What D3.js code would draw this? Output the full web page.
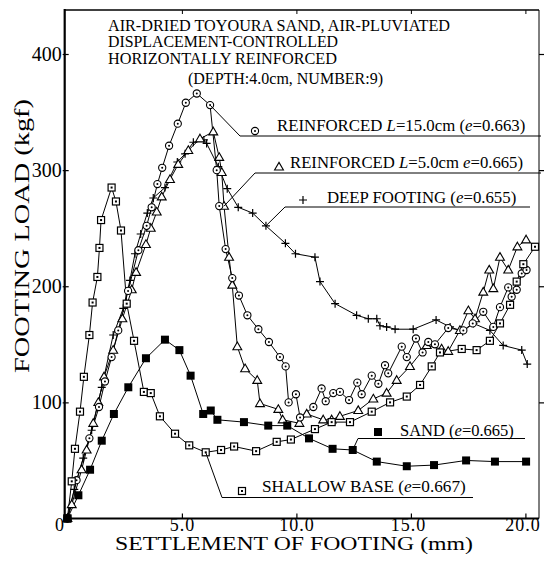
<!DOCTYPE html>
<html>
<head>
<meta charset="utf-8">
<script src="https://cdn.jsdelivr.net/npm/d3@7"></script>
<style>
html,body{margin:0;padding:0;background:#fff;}
svg{display:block;}
text{font-family:"Liberation Serif","DejaVu Serif",serif;fill:#000;}
</style>
</head>
<body>
<svg id="chart" width="545" height="564"></svg>
<script>
// ---------------- DATA ----------------
const xTicks = [0, 5, 10, 15, 20];
const yTicks = [100, 200, 300, 400];
const titleLines = [
  "AIR-DRIED TOYOURA SAND, AIR-PLUVIATED",
  "DISPLACEMENT-CONTROLLED",
  "HORIZONTALLY REINFORCED",
  "(DEPTH:4.0cm, NUMBER:9)"
];
const xLabel = "SETTLEMENT OF FOOTING (mm)";
const yLabel = "FOOTING LOAD (kgf)";

// settlement (mm), load (kgf)
const reinforced15 = [[0,0],[0.4,33],[0.96,69],[1.38,96],[1.64,118],[1.93,139],[2.22,162],[2.65,196],[3.10,231],[3.46,252],[3.68,268],[3.93,288],[4.14,302],[4.44,321],[4.82,340],[5.17,358],[5.65,366],[6.23,356],[6.52,300],[6.63,269],[6.91,232],[7.20,207],[7.49,192],[7.86,175],[8.34,163],[8.80,152],[9.28,139],[9.53,131],[9.66,100],[9.98,107],[10.16,87],[10.74,96],[11.10,112],[11.28,101],[11.61,108],[11.90,109],[12.30,102],[12.66,117],[12.85,107],[13.29,123],[13.58,116],[13.87,132],[14.01,125],[14.60,148],[14.82,139],[15.22,155],[15.51,143],[15.76,152],[16.05,150],[16.63,164],[17.29,162],[17.70,168],[18.16,178],[18.60,165],[18.89,182],[19.25,199],[19.40,191],[19.62,197],[19.84,211],[20.05,214]];
const reinforced5 = [[0,0],[0.19,12],[0.62,42],[0.84,59],[1.13,82],[1.35,100],[1.60,122],[2.00,145],[2.40,172],[2.81,197],[3.00,212],[3.43,236],[3.64,250],[3.90,264],[4.12,277],[4.48,292],[4.84,305],[5.28,317],[5.79,327],[6.37,333],[6.63,311],[6.74,298],[6.84,269],[7.06,225],[7.20,201],[7.42,148],[7.76,129],[8.29,119],[8.41,99],[9.21,94],[9.40,85],[10.13,82],[10.45,90],[11.17,85],[11.54,85],[11.90,88],[12.70,93],[13.36,103],[13.94,108],[14.38,119],[14.96,131],[15.69,149],[16.34,146],[16.63,144],[17.14,162],[17.51,179],[17.80,172],[18.16,195],[18.42,214],[18.60,198],[18.89,225],[19.25,214],[19.65,234],[20.03,240]];
const deepFooting = [[0,0],[0.30,25],[0.69,52],[1.06,76],[1.50,113],[2.00,158],[2.44,181],[2.73,205],[2.95,228],[3.20,245],[3.49,263],[3.75,276],[4.26,285],[4.80,307],[5.14,314],[5.50,324],[5.96,326],[6.08,323],[6.59,303],[6.98,284],[7.46,268],[8.09,263],[8.67,252],[9.52,237],[9.96,228],[10.81,225],[11.03,204],[11.69,185],[12.63,175],[13.14,172],[13.51,172],[13.65,166],[13.94,165],[14.31,163],[15.10,163],[16.10,171],[16.71,165],[17.26,161],[17.73,168],[18.45,162],[19.03,149],[19.84,145],[20.08,133]];
const shallowBase = [[0,0],[0.19,32],[0.33,60],[0.55,92],[0.72,122],[0.96,158],[1.10,186],[1.31,208],[1.40,233],[1.47,257],[1.93,285],[2.12,273],[2.34,248],[2.59,185],[2.91,153],[3.34,109],[3.64,108],[4.04,88],[4.70,73],[5.32,63],[6.04,57],[6.71,59],[7.28,62],[8.24,58],[9.14,66],[9.76,68],[10.81,77],[11.54,83],[12.34,83],[13.29,92],[14.09,100],[14.82,105],[15.40,115],[15.91,131],[16.27,143],[17.22,146],[17.87,145],[18.45,153],[18.89,168],[19.33,184],[19.62,204],[19.91,219],[20.42,234]];
const sand = [[0,0],[0.48,20],[0.99,42],[1.50,67],[2.03,90],[2.66,113],[3.43,138],[4.26,154],[4.89,145],[5.38,123],[5.93,90],[6.26,93],[6.55,85],[7.71,83],[8.77,80],[9.60,80],[10.55,69],[11.58,60],[12.46,59],[13.51,49],[14.82,45],[16.01,46],[17.41,50],[18.67,49],[20.03,49]];

// ---------------- LAYOUT ----------------
const svg = d3.select("#chart");
const frame = {left: 64.7, right: 539, top: 10, bottom: 518.5};
const x = d3.scaleLinear().domain([0, 20]).range([67.4, 525.4]);
const y = d3.scaleLinear().domain([0, 400]).range([518.5, 54]);

// frame
svg.append("line").attr("x1", frame.left).attr("x2", frame.right).attr("y1", frame.top).attr("y2", frame.top)
  .attr("stroke", "#000").attr("stroke-width", 1.6);
svg.append("line").attr("x1", frame.right).attr("x2", frame.right).attr("y1", frame.top).attr("y2", frame.bottom)
  .attr("stroke", "#000").attr("stroke-width", 1);

// axes
const gx = svg.append("g").attr("transform", `translate(0,${frame.bottom})`)
  .call(d3.axisBottom(x).tickValues(xTicks).tickSizeInner(-5).tickSizeOuter(0).tickPadding(0)
    .tickFormat(d => d === 0 ? "0" : d.toFixed(1)));
gx.select(".domain").remove();
gx.selectAll(".tick line").attr("stroke", "#000").attr("stroke-width", 1.2);
gx.selectAll(".tick text").attr("font-size", 18).attr("font-family", '"Liberation Serif",serif')
  .attr("letter-spacing", 1)
  .attr("dx", d => d === 0 ? -8 : (d >= 15 ? -3 : 0));
svg.append("line").attr("x1", frame.left - 1).attr("x2", frame.right).attr("y1", frame.bottom).attr("y2", frame.bottom)
  .attr("stroke", "#000").attr("stroke-width", 2.2);

// top ticks
svg.append("g").attr("transform", `translate(0,${frame.top})`)
  .call(d3.axisTop(x).tickValues(xTicks.slice(1)).tickSizeInner(-4).tickSizeOuter(0).tickFormat(""))
  .call(g => g.select(".domain").remove())
  .selectAll(".tick line").attr("stroke", "#000");

const gy = svg.append("g").attr("transform", `translate(${frame.left},0)`)
  .call(d3.axisLeft(y).tickValues(yTicks).tickSizeInner(4).tickSizeOuter(0).tickPadding(-1));
gy.select(".domain").remove();
gy.selectAll(".tick line").attr("stroke", "#000").attr("stroke-width", 1.2).attr("x2", 4).attr("x1", -2);
gy.selectAll(".tick text").attr("font-size", 20).attr("font-family", '"Liberation Serif",serif').attr("x", -3);
svg.append("line").attr("x1", frame.left).attr("x2", frame.left).attr("y1", frame.top - 1).attr("y2", frame.bottom + 1)
  .attr("stroke", "#000").attr("stroke-width", 2.2);

// right ticks
svg.append("g").attr("transform", `translate(${frame.right},0)`)
  .call(d3.axisRight(y).tickValues(yTicks).tickSizeInner(5).tickSizeOuter(0).tickFormat(""))
  .call(g => g.select(".domain").remove())
  .selectAll(".tick line").attr("stroke", "#000").attr("stroke-width", 1.2);

// axis titles
svg.append("text").attr("x", 115).attr("y", 550).attr("font-size", 18.5)
  .attr("textLength", 358).attr("lengthAdjust", "spacingAndGlyphs").text(xLabel);
svg.append("text").attr("transform", "translate(29,373) rotate(-90)").attr("font-size", 21)
  .attr("textLength", 274).attr("lengthAdjust", "spacingAndGlyphs").text(yLabel);

// title
const titleSpec = [
  {x: 108, y: 30.5, w: 342}, {x: 108, y: 47, w: 230}, {x: 108, y: 64, w: 229}, {x: 188, y: 84, w: 195}
];
titleLines.forEach((t, i) => {
  svg.append("text").attr("x", titleSpec[i].x).attr("y", titleSpec[i].y).attr("font-size", 16)
    .attr("textLength", titleSpec[i].w).attr("lengthAdjust", "spacingAndGlyphs").text(t);
});

// ---------------- SERIES ----------------
const line = d3.line().x(d => x(d[0])).y(d => y(d[1]));
const series = [
  {data: deepFooting, m: "plus"},
  {data: reinforced5, m: "tri"},
  {data: reinforced15, m: "circ"},
  {data: shallowBase, m: "sqdot"},
  {data: sand, m: "fill"}
];
series.forEach(s => {
  svg.append("path").attr("d", line(s.data)).attr("fill", "none").attr("stroke", "#000").attr("stroke-width", 1);
});

function marker(g, type, px, py) {
  if (type === "circ") {
    g.append("circle").attr("cx", px).attr("cy", py).attr("r", 3.6).attr("fill", "#fff").attr("stroke", "#000").attr("stroke-width", 1.1);
    g.append("circle").attr("cx", px).attr("cy", py).attr("r", 1).attr("fill", "#000");
  } else if (type === "tri") {
    g.append("path").attr("d", d3.symbol(d3.symbolTriangle, 34)()).attr("transform", `translate(${px},${py + 0.5})`)
      .attr("fill", "#fff").attr("stroke", "#000").attr("stroke-width", 1.1);
  } else if (type === "plus") {
    g.append("path").attr("d", `M${px - 4},${py}H${px + 4}M${px},${py - 4}V${py + 4}`).attr("stroke", "#000").attr("stroke-width", 1.2);
  } else if (type === "sqdot") {
    g.append("rect").attr("x", px - 3.5).attr("y", py - 3.5).attr("width", 7).attr("height", 7)
      .attr("fill", "#fff").attr("stroke", "#000").attr("stroke-width", 1.2);
    g.append("rect").attr("x", px - 1).attr("y", py - 1).attr("width", 2).attr("height", 2).attr("fill", "#000");
  } else if (type === "fill") {
    g.append("rect").attr("x", px - 4).attr("y", py - 4).attr("width", 8).attr("height", 8).attr("fill", "#000");
  }
}
series.forEach(s => {
  const g = svg.append("g");
  s.data.forEach(d => marker(g, s.m, x(d[0]), y(d[1])));
});

// ---------------- LEGEND LEADERS ----------------
const legends = [
  {m: "circ", from: reinforced15[17], corner: [240, 136], end: 541, mk: [255, 131], tx: 277, ty: 131, fs: 16.8,
   parts: [["REINFORCED ", 0], ["L", 1], ["=15.0cm (", 0], ["e", 1], ["=0.663)", 0]]},
  {m: "tri", from: reinforced5[22], corner: [255, 173], end: 541, mk: [279, 167], tx: 290, ty: 167.5, fs: 16.7,
   parts: [["REINFORCED ", 0], ["L", 1], ["=5.0cm ", 0], ["e", 1], ["=0.665)", 0]]},
  {m: "plus", from: deepFooting[22], corner: [285, 207], end: 530, mk: [303, 200], tx: 327, ty: 202.5, fs: 16.8,
   parts: [["DEEP FOOTING (", 0], ["e", 1], ["=0.655)", 0]]},
  {m: "fill", from: sand[18], corner: [358, 438.5], end: 525, mk: [378, 432], tx: 400, ty: 436, fs: 16.5,
   parts: [["SAND (", 0], ["e", 1], ["=0.665)", 0]]},
  {m: "sqdot", from: shallowBase[20], corner: [222, 497.5], end: 473, mk: [242, 491], tx: 262, ty: 492, fs: 17.2,
   parts: [["SHALLOW BASE (", 0], ["e", 1], ["=0.667)", 0]]}
];
const lg = svg.append("g");
legends.forEach(L => {
  const fx = x(L.from[0]), fy = y(L.from[1]);
  lg.append("path").attr("d", `M${fx},${fy}L${L.corner[0]},${L.corner[1]}H${L.end}`)
    .attr("fill", "none").attr("stroke", "#000").attr("stroke-width", 1);
  marker(lg, L.m, L.mk[0], L.mk[1]);
  const t = lg.append("text").attr("x", L.tx).attr("y", L.ty).attr("font-size", L.fs);
  L.parts.forEach(p => t.append("tspan").attr("font-style", p[1] ? "italic" : "normal").text(p[0]));
});
</script>
</body>
</html>
